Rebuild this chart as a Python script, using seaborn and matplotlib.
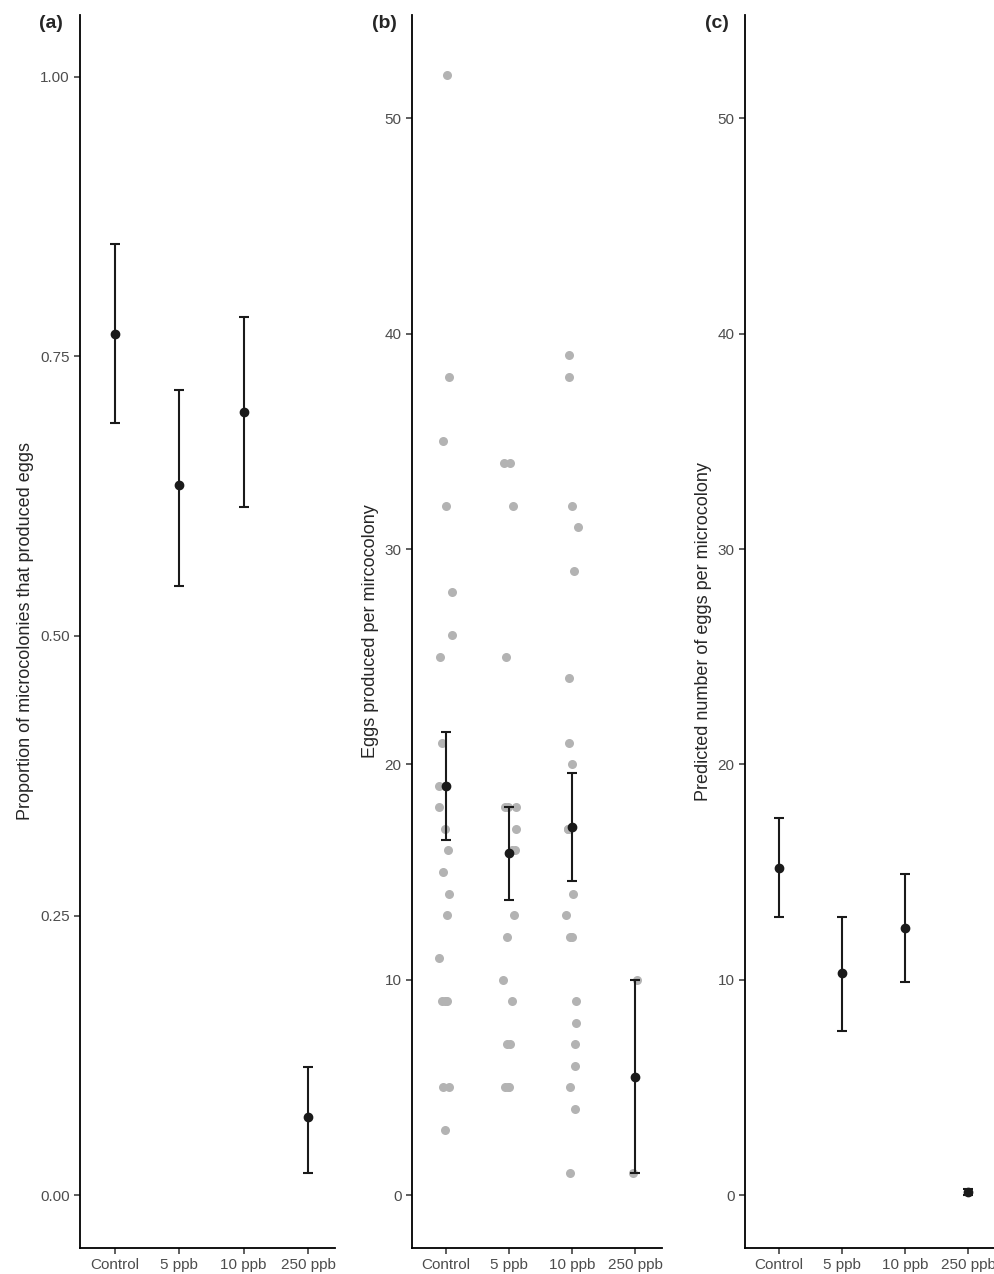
import numpy as np
import pandas as pd
import seaborn as sns
import matplotlib.pyplot as plt

# ================== DATA ==================
groups = ["Control", "5 ppb", "10 ppb", "250 ppb"]

prop_mean = [0.77, 0.635, 0.70, 0.07]
prop_lo = [0.69, 0.545, 0.615, 0.02]
prop_hi = [0.85, 0.72, 0.785, 0.115]

eggs_control = [52, 38, 35, 32, 28, 26, 25, 21, 19, 19, 18, 17, 16, 15, 14, 13, 11, 9, 9, 9, 5, 5, 3]
eggs_5ppb = [34, 34, 32, 25, 18, 18, 18, 17, 16, 16, 13, 12, 10, 9, 7, 7, 5, 5, 5]
eggs_10ppb = [39, 38, 32, 31, 29, 24, 21, 20, 17, 17, 14, 13, 12, 12, 9, 8, 7, 6, 5, 4, 1]
eggs_250ppb = [10, 1]

eggs_mean = [19.0, 15.9, 17.1, 5.5]
eggs_lo = [16.5, 13.7, 14.6, 1.0]
eggs_hi = [21.5, 18.0, 19.6, 10.0]

pred_mean = [15.2, 10.3, 12.4, 0.15]
pred_lo = [12.9, 7.6, 9.9, 0.0]
pred_hi = [17.5, 12.9, 14.9, 0.3]

# ================== PLOT ==================
sns.set_style("ticks")
plt.rcParams['font.family'] = ['Liberation Sans', 'DejaVu Sans']

fig = plt.figure(figsize=(9.95, 12.74), dpi=100)
W, H = 995, 1274
boxes = [(80, 335), (412, 662), (745, 995)]
axes = [fig.add_axes([l / W, (H - 1248) / H, (r - l) / W, (1248 - 15) / H]) for l, r in boxes]


def mean_ci(ax, mean, lo, hi):
    x = np.arange(len(groups))
    m = np.array(mean)
    err = [m - np.array(lo), np.array(hi) - m]
    ax.errorbar(x, m, yerr=err, fmt="o", color="#1a1a1a", ms=6, capsize=3.5,
                elinewidth=1.5, capthick=1.5, zorder=5)


# (a)
ax = axes[0]
ax.set_xticks(range(len(groups)))
mean_ci(ax, prop_mean, prop_lo, prop_hi)
ax.set_ylim(-0.047, 1.055)
ax.set_yticks([0, 0.25, 0.5, 0.75, 1.0])
ax.set_yticklabels(["0.00", "0.25", "0.50", "0.75", "1.00"])
ax.set_ylabel("Proportion of microcolonies that produced eggs", fontsize=13)

# (b)
ax = axes[1]
df = pd.DataFrame({
    "group": (["Control"] * len(eggs_control) + ["5 ppb"] * len(eggs_5ppb)
              + ["10 ppb"] * len(eggs_10ppb) + ["250 ppb"] * len(eggs_250ppb)),
    "eggs": eggs_control + eggs_5ppb + eggs_10ppb + eggs_250ppb,
})
np.random.seed(3)
sns.stripplot(data=df, x="group", y="eggs", order=groups, color="#b3b3b3",
              jitter=0.12, size=6.5, ax=ax, zorder=1)
mean_ci(ax, eggs_mean, eggs_lo, eggs_hi)
ax.set_ylim(-2.46, 54.8)
ax.set_yticks([0, 10, 20, 30, 40, 50])
ax.set_xlabel("")
ax.set_ylabel("Eggs produced per mircocolony", fontsize=13)

# (c)
ax = axes[2]
ax.set_xticks(range(len(groups)))
mean_ci(ax, pred_mean, pred_lo, pred_hi)
ax.set_ylim(-2.46, 54.8)
ax.set_yticks([0, 10, 20, 30, 40, 50])
ax.set_ylabel("Predicted number of eggs per microcolony", fontsize=13)

for ax, lab in zip(axes, ["(a)", "(b)", "(c)"]):
    ax.set_xlim(-0.54, 3.42)
    ax.set_xticks(range(len(groups)))
    ax.set_xticklabels(groups)
    ax.tick_params(labelsize=11, colors="#333333", width=1.1, length=4)
    ax.tick_params(labelcolor="#4d4d4d")
    for s in ["top", "right"]:
        ax.spines[s].set_visible(False)
    for s in ["left", "bottom"]:
        ax.spines[s].set_linewidth(1.3)
        ax.spines[s].set_color("black")
    ax.text(-0.16, 1.0, lab, transform=ax.transAxes,
            fontsize=14, fontweight="bold", va="top", ha="left")

fig.savefig("out.png", dpi=100)
